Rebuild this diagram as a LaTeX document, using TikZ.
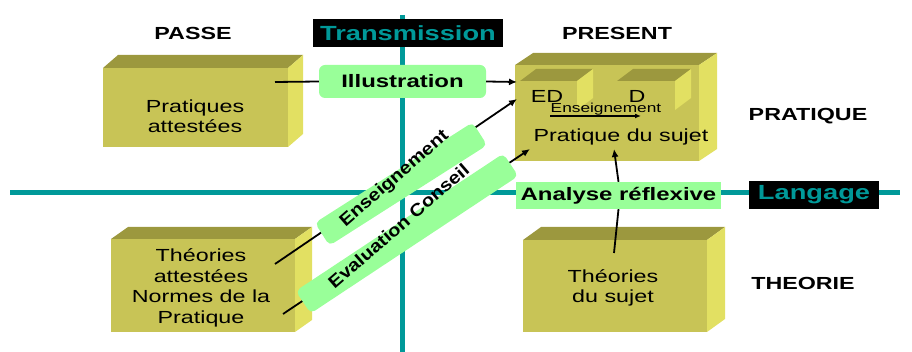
\documentclass[tikz,border=0pt]{standalone}
\usepackage{fontspec}
\setmainfont{Liberation Sans}[FakeStretch=1.33]
\newfontfamily\bandfont{Liberation Sans}[FakeStretch=1.15]
\usetikzlibrary{calc,arrows.meta}
\definecolor{axisteal}{RGB}{0,153,153}
\definecolor{frontc}{RGB}{200,196,86}
\definecolor{topc}{RGB}{156,152,62}
\definecolor{sidec}{RGB}{226,224,98}
\definecolor{mint}{RGB}{153,255,153}
% top and right faces of a block whose front face is the node #1
\newcommand\cuboid[3]{%
  \fill[topc] (#1.north west) -- ++(#2,#3) -- ($(#1.north east)+(#2,#3)$) -- (#1.north east) -- cycle;
  \fill[sidec] (#1.north east) -- ++(#2,#3) -- ($(#1.south east)+(#2,#3)$) -- (#1.south east) -- cycle;}
\begin{document}
\begin{tikzpicture}[x=1pt,y=-1pt,
  slabfront/.style={fill=frontc,inner sep=0pt,outer sep=0pt},
  boxtext/.style={align=center,font=\fontsize{17.5}{20.5}\selectfont},
  heading/.style={font=\bfseries\fontsize{17.5}{20}\selectfont},
  tag/.style={fill=black,text=axisteal,inner sep=0pt,font=\bfseries\fontsize{20.5}{24}\selectfont},
  greenlabel/.style={fill=mint,inner sep=0pt,font=\bfseries\fontsize{18}{21}\selectfont},
  band/.style={fill=mint,rounded corners=5pt,inner sep=0pt},
  bandtext/.style={font=\bandfont\bfseries\fontsize{17.5}{20}\selectfont},
  axis/.style={draw=axisteal,line width=5pt},
  conn/.style={line width=1.8pt},
  arr/.style={conn,-{Latex[length=8pt,width=7pt]}}]
\useasboundingbox (0,0) rectangle (912,352);

% axes
\coordinate (hx0) at (10,193);
\coordinate (hx1) at (900,193);
\coordinate (vy0) at (402.5,15);
\coordinate (vy1) at (402.5,352);
\draw[axis] (hx0) -- (hx1);
\draw[axis] (vy0) -- (vy1);

% blocks
\node[slabfront,minimum width=185pt,minimum height=79pt] (past) at (195.5,107.5) {};
\cuboid{past}{15}{-13}
\node[slabfront,minimum width=184pt,minimum height=93pt] (norms) at (203,285.5) {};
\cuboid{norms}{17}{-12}
\node[slabfront,minimum width=184pt,minimum height=92pt] (theory) at (615,286) {};
\cuboid{theory}{18}{-13}
\node[slabfront,minimum width=184pt,minimum height=96pt] (present) at (607,113) {};
\cuboid{present}{18}{-12}
\node[slabfront,minimum width=57pt,minimum height=29pt] (ed) at (548.5,95.5) {};
\cuboid{ed}{16}{-12}
\node[slabfront,minimum width=58pt,minimum height=29pt] (d) at (646,95.5) {};
\cuboid{d}{16}{-12}

% block texts
\node[boxtext] (pasttxt) at (195,116) {Pratiques\\attestées};
\node[boxtext] (normstxt) at (201,288) {Théories\\attestées\\Normes de la\\Pratique};
\node[boxtext] (theorytxt) at (613,288) {Théories\\du sujet};
\node[boxtext] (pstxt) at (621,137) {Pratique du sujet};
\node[boxtext] (edtxt) at (547,96) {ED};
\node[boxtext] (dtxt) at (637,96) {D};

% connector end points
\coordinate (pastout) at (275,82);
\coordinate (illin) at (517,82);
\coordinate (teachout) at (275,264);
\coordinate (teachin) at (517,99);
\coordinate (evalout) at (283,314);
\coordinate (evalin) at (530,149);
\coordinate (theoryout) at (614,253);
\coordinate (psin) at (614,149);
\coordinate (edout) at (550,116);
\coordinate (din) at (641,116);

% labels on the connectors
\node[greenlabel,rounded corners=6pt,minimum width=167pt,minimum height=33pt] (illus) at (402.5,81.5) {Illustration};
\node[greenlabel,minimum width=205pt,minimum height=27pt] (analyse) at (618.5,195.5) {Analyse réflexive};

% connectors
\draw[conn] (pastout) -- (illus.west);
\draw[arr] (illus.east) -- (illin);
\draw[arr] (teachout) -- (teachin);
\draw[arr] (evalout) -- (evalin);
\draw[conn] (theoryout) -- (analyse.south);
\draw[arr] (analyse.north) -- (psin);
\draw[conn,-{Latex[length=6pt,width=5pt]},line width=1.2pt] (edout) -- (din);
\node[font=\fontsize{13}{15}\selectfont] (teachsmall) at (606,109) {Enseignement};

% slanted bands
\node[band,rotate=32.5,minimum width=187pt,minimum height=27pt] (teachband) at (401,184) {};
\node[band,rotate=33.5,minimum width=249pt,minimum height=27pt] (evalband) at (407,233.5) {};
\node[bandtext,rotate=41] (teachlbl) at (394.5,179) {Enseignement};
\node[bandtext,rotate=41] (evallbl) at (398.5,226) {Evaluation Conseil};

% axis tags and headings
\node[tag,minimum width=190pt,minimum height=28pt] (transm) at (408,33) {Transmission};
\node[tag,minimum width=130pt,minimum height=28pt] (lang) at (814,195) {Langage};
\node[heading] (passe) at (193,33) {PASSE};
\node[heading] (pres) at (617,33) {PRESENT};
\node[heading] (prat) at (808,116) {PRATIQUE};
\node[heading] (theo) at (803,283) {THEORIE};
\end{tikzpicture}
\end{document}
